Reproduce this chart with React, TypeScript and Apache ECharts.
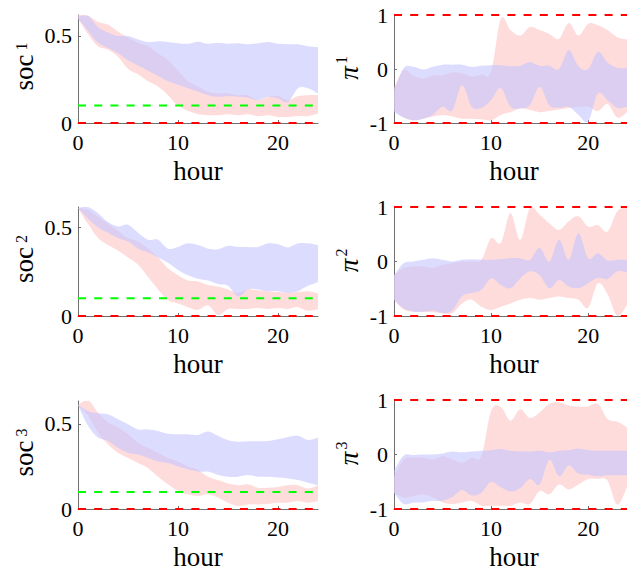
import React, { useEffect, useRef } from "react";
import * as echarts from "echarts";

// ---------- data ----------
const hours = [0, 1, 2, 3, 4, 5, 6, 7, 8, 9, 10, 11, 12, 13, 14, 15, 16, 17, 18, 19, 20, 21, 22, 23, 24];

const xTicks = [0, 10, 20];
const socTicks = [0, 0.5];
const piTicks = [-1, 0, 1];
const socMax = [0.62, 0.615, 0.635];
const socZero = 0;
const socRef = 0.1;
const piBounds = [-1, 1];

// soc^1
const soc1RedUp = [0.62, 0.615, 0.58, 0.565, 0.525, 0.49, 0.46, 0.44, 0.4, 0.36, 0.3, 0.24, 0.21, 0.18, 0.17, 0.17, 0.16, 0.16, 0.13, 0.15, 0.155, 0.13, 0.155, 0.16, 0.16];
const soc1RedLo = [0.6, 0.51, 0.44, 0.42, 0.38, 0.31, 0.28, 0.24, 0.21, 0.16, 0.1, 0.07, 0.05, 0.045, 0.045, 0.05, 0.045, 0.05, 0.04, 0.045, 0.035, 0.035, 0.04, 0.04, 0.055];
const soc1BlueUp = [0.61, 0.615, 0.55, 0.52, 0.5, 0.5, 0.48, 0.465, 0.47, 0.465, 0.458, 0.455, 0.467, 0.455, 0.46, 0.455, 0.458, 0.452, 0.458, 0.465, 0.455, 0.452, 0.452, 0.44, 0.435];
const soc1BlueLo = [0.6, 0.53, 0.46, 0.43, 0.4, 0.36, 0.33, 0.3, 0.27, 0.24, 0.22, 0.2, 0.18, 0.16, 0.15, 0.155, 0.15, 0.145, 0.13, 0.15, 0.14, 0.12, 0.2, 0.2, 0.17];

// pi^1
const pi1RedUp = [-0.35, -0.02, -0.12, -0.18, -0.12, -0.12, -0.06, -0.08, -0.14, -0.1, -0.05, 0.93, 0.72, 0.62, 0.78, 0.72, 0.65, 0.56, 0.85, 0.62, 0.84, 0.81, 0.72, 0.59, 0.55];
const pi1RedLo = [-0.75, -0.9, -0.95, -0.92, -0.88, -0.85, -0.88, -0.92, -0.92, -0.93, -0.95, -0.85, -0.8, -0.73, -0.76, -0.8, -0.78, -0.75, -0.72, -0.7, -0.7, -0.78, -0.65, -0.9, -0.8];
const pi1BlueUp = [-0.4, 0.02, 0.04, -0.01, 0.04, 0.08, 0.08, 0.08, 0.04, 0.06, 0.07, 0.07, 0.05, 0.06, 0.13, 0.06, 0.06, 0.0, 0.35, 0.05, 0.0, 0.32, 0.12, 0.02, 0.02];
const pi1BlueLo = [-0.8, -0.9, -0.95, -0.92, -0.85, -0.7, -0.77, -0.3, -0.7, -0.72, -0.58, -0.35, -0.7, -0.73, -0.67, -0.33, -0.67, -0.72, -0.7, -0.85, -0.97, -0.45, -0.58, -0.72, -0.7];

// soc^2
const soc2RedUp = [0.61, 0.6, 0.56, 0.52, 0.48, 0.44, 0.42, 0.38, 0.33, 0.27, 0.23, 0.2, 0.195, 0.175, 0.166, 0.15, 0.13, 0.15, 0.145, 0.14, 0.135, 0.13, 0.135, 0.14, 0.128];
const soc2RedLo = [0.61, 0.52, 0.44, 0.4, 0.37, 0.33, 0.29, 0.22, 0.15, 0.09, 0.07, 0.05, 0.035, 0.06, 0.005, 0.04, 0.04, 0.04, 0.045, 0.04, 0.045, 0.04, 0.05, 0.03, 0.04];
const soc2BlueUp = [0.61, 0.615, 0.58, 0.53, 0.505, 0.515, 0.47, 0.43, 0.43, 0.38, 0.39, 0.41, 0.4, 0.38, 0.377, 0.396, 0.39, 0.39, 0.39, 0.41, 0.405, 0.387, 0.41, 0.41, 0.4];
const soc2BlueLo = [0.61, 0.55, 0.5, 0.47, 0.44, 0.42, 0.38, 0.36, 0.33, 0.3, 0.26, 0.23, 0.21, 0.2, 0.18, 0.17, 0.11, 0.15, 0.15, 0.14, 0.14, 0.13, 0.14, 0.17, 0.19];

// pi^2
const pi2RedUp = [-0.25, -0.12, -0.09, -0.09, -0.12, -0.06, -0.03, 0, 0, 0.03, 0.43, 0.34, 0.89, 0.4, 0.98, 0.86, 0.7, 0.58, 0.74, 0.83, 0.64, 0.67, 0.55, 0.92, 1.0];
const pi2RedLo = [-0.7, -0.88, -0.92, -0.92, -0.93, -0.95, -0.95, -0.77, -0.7, -0.83, -0.89, -0.83, -0.77, -0.7, -0.67, -0.7, -0.67, -0.64, -0.67, -0.7, -0.85, -0.4, -0.6, -1.0, -0.8];
const pi2BlueUp = [-0.25, -0.03, 0, 0.03, 0.06, 0.03, 0, 0.03, 0.04, 0.03, 0.03, 0.04, 0.06, 0.06, 0.03, 0.25, 0, 0.4, 0.03, 0.52, 0.06, 0.15, 0.02, 0.03, 0.03];
const pi2BlueLo = [-0.7, -0.86, -0.92, -0.92, -0.9, -0.95, -0.9, -0.64, -0.58, -0.52, -0.31, -0.43, -0.49, -0.31, -0.18, -0.25, -0.49, -0.34, -0.46, -0.49, -0.4, -0.3, -0.32, -0.18, -0.2];

// soc^3
const soc3RedUp = [0.61, 0.64, 0.567, 0.51, 0.48, 0.44, 0.39, 0.36, 0.33, 0.3, 0.28, 0.25, 0.23, 0.19, 0.17, 0.15, 0.14, 0.145, 0.125, 0.125, 0.13, 0.14, 0.14, 0.12, 0.14];
const soc3RedLo = [0.61, 0.55, 0.45, 0.38, 0.33, 0.3, 0.27, 0.24, 0.19, 0.145, 0.106, 0.086, 0.076, 0.086, 0.067, 0.037, 0.018, 0.027, 0.027, 0.03, 0.037, 0.037, 0.047, 0.037, 0.047];
const soc3BlueUp = [0.615, 0.576, 0.563, 0.557, 0.527, 0.498, 0.468, 0.468, 0.459, 0.443, 0.439, 0.439, 0.435, 0.455, 0.43, 0.404, 0.396, 0.398, 0.398, 0.4, 0.41, 0.424, 0.43, 0.405, 0.42];
const soc3BlueLo = [0.61, 0.49, 0.42, 0.4, 0.36, 0.33, 0.32, 0.3, 0.28, 0.27, 0.25, 0.233, 0.22, 0.22, 0.2, 0.19, 0.19, 0.2, 0.19, 0.19, 0.185, 0.18, 0.17, 0.155, 0.14];

// pi^3
const pi3RedUp = [-0.4, -0.09, -0.06, -0.06, -0.09, -0.03, -0.09, -0.15, -0.06, -0.03, 0.8, 0.87, 0.62, 0.83, 0.67, 0.77, 0.93, 0.96, 0.9, 0.88, 0.88, 0.93, 0.65, 0.6, 0.5];
const pi3RedLo = [-0.7, -0.79, -0.76, -0.73, -0.79, -0.88, -0.91, -0.88, -0.85, -0.94, -0.94, -0.94, -0.94, -0.88, -0.91, -0.67, -0.73, -0.55, -0.64, -0.55, -0.45, -0.45, -0.48, -0.92, -0.6];
const pi3BlueUp = [-0.3, -0.02, -0.01, 0.0, 0.0, 0.02, 0.055, 0.04, 0.055, 0.07, 0.08, 0.1, 0.07, 0.055, 0.055, 0.07, 0.04, 0.07, 0.08, 0.11, 0.08, 0.07, 0.07, 0.07, 0.07];
const pi3BlueLo = [-0.7, -0.91, -0.88, -0.88, -0.85, -0.85, -0.78, -0.65, -0.75, -0.7, -0.5, -0.6, -0.68, -0.62, -0.45, -0.55, -0.1, -0.4, -0.2, -0.35, -0.37, -0.4, -0.38, -0.38, -0.38];

const xName = "hour";
const socName = "soc";
const piName = "π";
const superscripts = ["1", "2", "3"];

// ---------- layout / style ----------
const FONT = '"Liberation Serif", "Times New Roman", serif';
const RED_FILL = "rgba(255,196,196,0.6)";
const BLUE_FILL = "rgba(196,196,255,0.6)";
const AXIS_COLOR = "#6f6f6f";
const colLeft = [78, 394];
const plotWidth = 240;
const socTop = [15, 207, 401];
const socHeight = [108, 109, 108];
const piTop = [15, 207, 400];
const piHeight = [108, 109, 109];

type Panel = {
  kind: "soc" | "pi";
  row: number;
  redUp: number[];
  redLo: number[];
  blueUp: number[];
  blueLo: number[];
};

const panels: Panel[] = [
  { kind: "soc", row: 0, redUp: soc1RedUp, redLo: soc1RedLo, blueUp: soc1BlueUp, blueLo: soc1BlueLo },
  { kind: "pi", row: 0, redUp: pi1RedUp, redLo: pi1RedLo, blueUp: pi1BlueUp, blueLo: pi1BlueLo },
  { kind: "soc", row: 1, redUp: soc2RedUp, redLo: soc2RedLo, blueUp: soc2BlueUp, blueLo: soc2BlueLo },
  { kind: "pi", row: 1, redUp: pi2RedUp, redLo: pi2RedLo, blueUp: pi2BlueUp, blueLo: pi2BlueLo },
  { kind: "soc", row: 2, redUp: soc3RedUp, redLo: soc3RedLo, blueUp: soc3BlueUp, blueLo: soc3BlueLo },
  { kind: "pi", row: 2, redUp: pi3RedUp, redLo: pi3RedLo, blueUp: pi3BlueUp, blueLo: pi3BlueLo },
];

// Catmull-Rom curve through pixel points, written as cubic Bezier path commands
function curvePath(pts: number[][], start: "M" | "L"): string {
  const f = (v: number) => v.toFixed(2);
  let d = `${start}${f(pts[0][0])},${f(pts[0][1])}`;
  const n = pts.length;
  for (let k = 0; k < n - 1; k++) {
    const p0 = pts[Math.max(k - 1, 0)];
    const p1 = pts[k];
    const p2 = pts[k + 1];
    const p3 = pts[Math.min(k + 2, n - 1)];
    const c1x = p1[0] + (p2[0] - p0[0]) / 6;
    const c1y = p1[1] + (p2[1] - p0[1]) / 6;
    const c2x = p2[0] - (p3[0] - p1[0]) / 6;
    const c2y = p2[1] - (p3[1] - p1[1]) / 6;
    d += `C${f(c1x)},${f(c1y)} ${f(c2x)},${f(c2y)} ${f(p2[0])},${f(p2[1])}`;
  }
  return d;
}

// Band between a lower and an upper curve, drawn as one smoothed closed path
function bandSeries(i: number, lo: number[], up: number[], color: string) {
  return {
    type: "custom",
    coordinateSystem: "cartesian2d",
    xAxisIndex: i,
    yAxisIndex: i,
    silent: true,
    clip: true,
    z: 1,
    data: hours.map((h, k) => [h, lo[k], up[k]]),
    encode: { x: 0, y: [1, 2] },
    renderItem: (params: any, api: any) => {
      if (params.dataIndex !== 0) return null;
      const upper = hours.map((h, k) => api.coord([h, up[k]]));
      const lower = hours.map((h, k) => api.coord([h, lo[k]])).reverse();
      const d = curvePath(upper, "M") + curvePath(lower, "L") + "Z";
      return {
        type: "path",
        shape: { pathData: d },
        style: { fill: color, stroke: null },
      };
    },
  };
}

function dashSeries(i: number, value: number, color: string) {
  return {
    type: "line",
    xAxisIndex: i,
    yAxisIndex: i,
    symbol: "none",
    silent: true,
    data: [
      [hours[0], value],
      [hours[hours.length - 1], value],
    ],
    lineStyle: { color, width: 2, type: [8, 8.2] },
    z: 5,
  };
}

function buildOption() {
  const grid: any[] = [];
  const xAxis: any[] = [];
  const yAxis: any[] = [];
  const series: any[] = [];
  const graphic: any[] = [];

  panels.forEach((p, i) => {
    const col = p.kind === "soc" ? 0 : 1;
    const top = p.kind === "soc" ? socTop[p.row] : piTop[p.row];
    const height = p.kind === "soc" ? socHeight[p.row] : piHeight[p.row];
    grid.push({ left: colLeft[col], top, width: plotWidth, height, containLabel: false });

    xAxis.push({
      gridIndex: i,
      type: "value",
      min: hours[0],
      max: hours[hours.length - 1],
      axisLine: { show: true, onZero: false, lineStyle: { color: AXIS_COLOR, width: 1 } },
      axisTick: { show: true, inside: true, length: 3, customValues: xTicks, lineStyle: { color: AXIS_COLOR } },
      axisLabel: { customValues: xTicks, fontSize: 22, fontFamily: FONT, color: "#000", margin: 8 },
      splitLine: { show: false },
    });

    const ticks = p.kind === "soc" ? socTicks : piTicks;
    yAxis.push({
      gridIndex: i,
      type: "value",
      min: p.kind === "soc" ? 0 : piBounds[0],
      max: p.kind === "soc" ? socMax[p.row] : piBounds[1],
      axisLine: { show: true, onZero: false, lineStyle: { color: AXIS_COLOR, width: 1 } },
      axisTick: { show: true, inside: true, length: 3, customValues: ticks, lineStyle: { color: AXIS_COLOR } },
      axisLabel: {
        customValues: ticks,
        fontSize: 22,
        fontFamily: FONT,
        color: "#000",
        margin: 6,
        formatter: (v: number) => String(v),
      },
      splitLine: { show: false },
    });

    series.push(bandSeries(i, p.redLo, p.redUp, RED_FILL));
    series.push(bandSeries(i, p.blueLo, p.blueUp, BLUE_FILL));
    if (p.kind === "soc") {
      series.push(dashSeries(i, socRef, "#00ff00"));
      series.push(dashSeries(i, socZero, "#ff0000"));
    } else {
      series.push(dashSeries(i, piBounds[0], "#ff0000"));
      series.push(dashSeries(i, piBounds[1], "#ff0000"));
    }

    const rc = top + height / 2;
    const bottom = top + height;
    graphic.push({
      type: "text",
      x: colLeft[col] + plotWidth / 2,
      y: bottom + 47.5,
      silent: true,
      style: { text: xName, fontSize: 27, fontFamily: FONT, fill: "#000", align: "center", verticalAlign: "middle" },
    });
    if (p.kind === "soc") {
      graphic.push({
        type: "text",
        x: 24,
        y: rc + 3.5,
        rotation: Math.PI / 2,
        silent: true,
        style: { text: socName, fontSize: 27, fontFamily: FONT, fill: "#000", align: "center", verticalAlign: "middle" },
      });
      graphic.push({
        type: "text",
        x: 21,
        y: rc - 22.5,
        rotation: Math.PI / 2,
        silent: true,
        style: { text: superscripts[p.row], fontSize: 16, fontFamily: FONT, fill: "#000", align: "center", verticalAlign: "middle" },
      });
    } else {
      graphic.push({
        type: "text",
        x: 349,
        y: rc + 4,
        rotation: Math.PI / 2,
        silent: true,
        style: { text: piName, fontSize: 27, fontStyle: "italic", fontFamily: FONT, fill: "#000", align: "center", verticalAlign: "middle" },
      });
      graphic.push({
        type: "text",
        x: 341,
        y: rc - 9,
        rotation: Math.PI / 2,
        silent: true,
        style: { text: superscripts[p.row], fontSize: 16, fontFamily: FONT, fill: "#000", align: "center", verticalAlign: "middle" },
      });
    }
  });

  return { animation: false, backgroundColor: "#ffffff", grid, xAxis, yAxis, series, graphic };
}

export default function App() {
  const ref = useRef<HTMLDivElement | null>(null);
  useEffect(() => {
    document.body.style.margin = "0";
    if (!ref.current) return;
    const chart = echarts.init(ref.current, undefined, { renderer: "svg" });
    chart.setOption(buildOption() as any);
    return () => chart.dispose();
  }, []);
  return <div ref={ref} style={{ width: 627, height: 572 }} />;
}
